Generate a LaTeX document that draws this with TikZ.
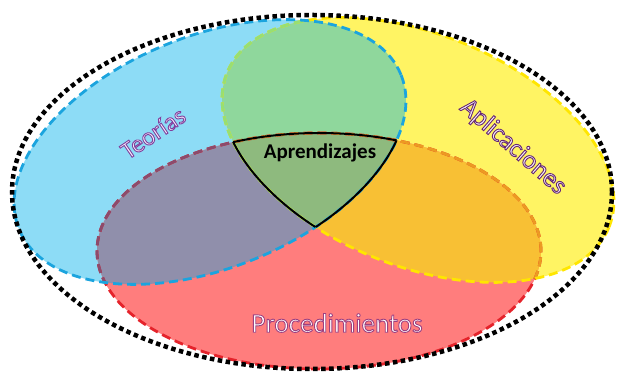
\documentclass[tikz,border=0pt]{standalone}
\usepackage{fontspec}
\setmainfont{Carlito}
\definecolor{cBlue}{HTML}{8DDCF6}
\definecolor{cYel}{HTML}{FFF463}
\definecolor{cGreen}{HTML}{8FD79C}
\definecolor{cRed}{HTML}{FF7D7D}
\definecolor{cPurple}{HTML}{908FAB}
\definecolor{cOrange}{HTML}{F8C034}
\definecolor{cCenter}{HTML}{8EBA7E}
\definecolor{sBlue}{HTML}{1BA4DE}
\definecolor{sYel}{HTML}{FFE600}
\definecolor{sGreen}{HTML}{98DF72}
\definecolor{sRed}{HTML}{E5232B}
\definecolor{sBrown}{HTML}{8C4B6C}
\definecolor{sOrange}{HTML}{EC9A22}
\definecolor{tFill}{HTML}{F4EEFA}
\newcommand\wordart[2]{\special{pdf:literal direct #1 RG 0.9 w 2 Tr}#2\special{pdf:literal direct 0 Tr}}
\tikzset{
  BE/.style={rotate around={22:(210,222)}},
  YE/.style={rotate around={-22:(418,224)}},
  dashE/.style={line width=2.8pt, dash pattern=on 9pt off 5pt},
  solidE/.style={line width=2pt, draw=black},
  outerdots/.style={line width=4.5pt, dash pattern=on 4.5pt off 3.5pt, draw=black},
  wa/.style={inner sep=0pt, text=tFill},
}
\begin{document}
\begin{tikzpicture}[x=1pt,y=1pt]
\useasboundingbox (0,0) rectangle (620,374);
\fill[white] (0,0) rectangle (620,374);
% fills
\fill[cBlue,BE] (210,222) ellipse [x radius=206pt,y radius=116pt];
\fill[cYel,YE] (418,224) ellipse [x radius=206pt,y radius=116pt];
\begin{scope}
  \clip[BE] (210,222) ellipse [x radius=206pt,y radius=116pt];
  \fill[cGreen,YE] (418,224) ellipse [x radius=206pt,y radius=116pt];
\end{scope}
\fill[cRed] (319,123) ellipse [x radius=222pt,y radius=118pt];
\begin{scope}
  \clip (319,123) ellipse [x radius=222pt,y radius=118pt];
  \fill[cPurple,BE] (210,222) ellipse [x radius=206pt,y radius=116pt];
  \fill[cOrange,YE] (418,224) ellipse [x radius=206pt,y radius=116pt];
  \clip[BE] (210,222) ellipse [x radius=206pt,y radius=116pt];
  \fill[cCenter,YE] (418,224) ellipse [x radius=206pt,y radius=116pt];
\end{scope}
% dashed outlines
\draw[dashE,sRed] (319,123) ellipse [x radius=222pt,y radius=118pt];
\begin{scope}
  \clip[BE] (210,222) ellipse [x radius=206pt,y radius=116pt];
  \draw[dashE,sBrown] (319,123) ellipse [x radius=222pt,y radius=118pt];
\end{scope}
\begin{scope}
  \clip[YE] (418,224) ellipse [x radius=206pt,y radius=116pt];
  \draw[dashE,sOrange] (319,123) ellipse [x radius=222pt,y radius=118pt];
\end{scope}
\draw[dashE,sYel,YE] (418,224) ellipse [x radius=206pt,y radius=116pt];
\begin{scope}
  \clip[BE] (210,222) ellipse [x radius=206pt,y radius=116pt];
  \draw[dashE,sGreen,YE] (418,224) ellipse [x radius=206pt,y radius=116pt];
\end{scope}
\draw[dashE,sBlue,BE] (210,222) ellipse [x radius=206pt,y radius=116pt];
% black outline of the triple intersection
\begin{scope}
  \clip[BE] (210,222) ellipse [x radius=206pt,y radius=116pt];
  \clip[YE] (418,224) ellipse [x radius=206pt,y radius=116pt];
  \draw[solidE] (319,123) ellipse [x radius=222pt,y radius=118pt];
\end{scope}
\begin{scope}
  \clip (319,123) ellipse [x radius=222pt,y radius=118pt];
  \clip[BE] (210,222) ellipse [x radius=206pt,y radius=116pt];
  \draw[solidE,YE] (418,224) ellipse [x radius=206pt,y radius=116pt];
\end{scope}
\begin{scope}
  \clip (319,123) ellipse [x radius=222pt,y radius=118pt];
  \clip[YE] (418,224) ellipse [x radius=206pt,y radius=116pt];
  \draw[solidE,BE] (210,222) ellipse [x radius=206pt,y radius=116pt];
\end{scope}
% outer dotted ellipse
\draw[outerdots] (312,182) ellipse [x radius=300pt,y radius=177pt];
% labels
\node[wa, rotate=34, font=\fontsize{25}{29}\selectfont] (teo) at (153,241) {\wordart{0.50 0.25 0.62}{Teorías}};
\node[wa, rotate=-41, font=\fontsize{26}{30}\selectfont] (apl) at (513,227) {\wordart{0.40 0.15 0.45}{Aplicaciones}};
\node[inner sep=0pt, text=white, font=\fontsize{27}{31}\selectfont] (pro) at (337,51) {\wordart{0.62 0.25 0.50}{Procedimientos}};
\node[inner sep=0pt, text=black, font=\bfseries\fontsize{21}{25}\selectfont] (apr) at (320,221) {Aprendizajes};
\end{tikzpicture}
\end{document}
